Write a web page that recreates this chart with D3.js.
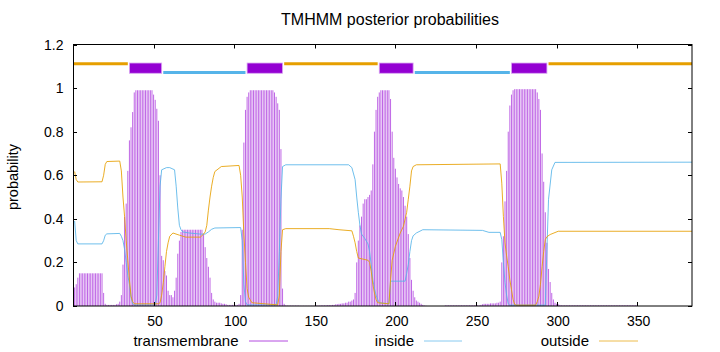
<!DOCTYPE html>
<html><head><meta charset="utf-8">
<script src="https://cdn.jsdelivr.net/npm/d3@7"></script>
<style>
html,body{margin:0;padding:0;background:#fff;}
svg{display:block;font-family:"Liberation Sans",Arial,sans-serif;}
</style></head>
<body><svg id="chart" width="720" height="352"></svg>
<script>
const title = "TMHMM posterior probabilities";
const yLabel = "probability";
const seqLength = 384;
const xTicks = [50,100,150,200,250,300,350];
const yTicks = [0,0.2,0.4,0.6,0.8,1,1.2];
const yTickLabels = ["0","0.2","0.4","0.6","0.8","1","1.2"];
const seriesNames = ["transmembrane","inside","outside"];
const seriesColors = ["#9400d3","#56b4e9","#e69f00"];

// transmembrane posterior per residue (1..384)
const tmProb = [
.085,.10,.13,.15,.15,.15,.15,.15,.15,.15,
.15,.15,.15,.15,.15,.15,.15,.15,.06,.01,
.005,.005,.005,.005,.005,.005,.008,.01,.02,.05,
.19,.41,.47,.62,.76,.82,.89,.98,.99,.99,
.99,.99,.99,.99,.99,.99,.99,.99,.99,.97,
.946,.905,.85,.6,.23,.21,.16,.14,.07,.05,
.05,.04,.07,.13,.24,.30,.34,.35,.35,.35,
.35,.35,.35,.35,.35,.35,.35,.35,.35,.35,
.33,.27,.22,.18,.13,.06,.03,.02,.015,.015,
.015,.012,.01,.01,.008,.005,.005,.005,.005,.005,
.005,.005,.01,.05,.35,.75,.90,.96,.98,.99,
.99,.99,.99,.99,.99,.99,.99,.99,.99,.99,
.99,.99,.99,.99,.98,.96,.93,.90,.72,.08,
.01,.003,.002,.002,.002,.002,.002,.002,.002,.002,
.001,.001,.001,.001,.001,.001,.001,.001,.001,.001,
.002,.002,.002,.003,.003,.003,.003,.004,.004,.004,
.005,.005,.008,.008,.01,.01,.012,.012,.015,.015,
.02,.02,.025,.03,.06,.20,.30,.37,.41,.47,
.49,.49,.50,.51,.53,.65,.80,.90,.96,.98,
.99,.99,.99,.99,.99,.99,.95,.80,.68,.63,
.59,.56,.54,.53,.50,.46,.41,.33,.22,.12,
.07,.04,.025,.02,.015,.01,.005,.002,.001,0,
0,0,0,0,0,0,0,0,0,0,
.003,.003,.003,.003,.003,.003,.003,.003,.003,.003,
.003,.003,.003,.003,.003,.003,.003,.003,.003,.003,
.003,.003,.005,.008,.01,.01,.01,.01,.012,.012,
.012,.012,.015,.015,.02,.20,.32,.48,.62,.80,
.92,.97,.99,.995,.995,.995,.995,.995,.995,.995,
.995,.995,.995,.995,.995,.995,.995,.98,.95,.90,
.70,.57,.43,.29,.17,.11,.06,.03,.015,.01,
.008,.005,.003,.003,.003,.003,.003,.003,.003,.003,
.003,.003,.003,.003,.003,.003,.003,.003,.003,.003,
.003,.003,.003,.003,.003,.003,.003,.003,.003,.003,
.003,.003,.003,.003,.003,.003,.003,.003,.003,.003,
.003,.003,.003,.003,.003,.003,.003,.003,.003,.003,
0,0,0,0,0,0,0,0,0,0,
0,0,0,0,0,0,0,0,0,0,
0,0,0,0,0,0,0,0,0,0,
0,0,0,0
];

// inside posterior [residue, value]
const insideProb = [
[1,0.39],[2,0.3],[3,0.285],[18,0.285],[19,0.3],[20,0.325],[21,0.331],[29,0.333],[30,0.32],[31,0.3],[32,0.26],[33,0.2],[34,0.14],[35,0.1],[36,0.04],[37,0.01],[38,0.005],
[51,0.005],[52,0.05],[53,0.3],[54,0.55],[55,0.625],[58,0.635],[60,0.635],[63,0.625],[64,0.55],[65,0.45],[66,0.37],[67,0.35],[68,0.34],[72,0.335],[79,0.33],[82,0.33],[84,0.34],[86,0.352],[88,0.358],[104,0.36],[105,0.3],[106,0.1],[107,0.02],[108,0.005],
[126,0.005],[127,0.045],[128,0.25],[129,0.49],[130,0.64],[132,0.648],[171,0.648],[173,0.635],[175,0.58],[176,0.5],[177,0.43],[178,0.37],[179,0.33],[181,0.31],[183,0.285],[184,0.25],[185,0.19],[186,0.12],[187,0.08],[188,0.05],[189,0.03],[190,0.015],[196,0.01],
[197,0.114],[206,0.114],[207,0.15],[208,0.19],[209,0.25],[210,0.3],[211,0.322],[213,0.335],[217,0.35],[254,0.347],[258,0.338],[265,0.338],[266,0.305],[267,0.2],[268,0.107],[269,0.05],[270,0.01],[271,0.004],
[293,0.004],[294,0.26],[295,0.49],[297,0.625],[299,0.659],[384,0.66]
];

// outside posterior [residue, value]
const outsideProb = [
[1,0.617],[2,0.58],[3,0.569],[18,0.57],[19,0.6],[20,0.65],[21,0.663],[29,0.665],[30,0.62],[31,0.5],[32,0.41],[33,0.3],[34,0.21],[35,0.12],[36,0.045],[37,0.02],[38,0.01],
[53,0.01],[54,0.015],[55,0.05],[56,0.107],[57,0.18],[58,0.25],[59,0.29],[60,0.32],[62,0.335],[66,0.325],[70,0.316],[79,0.316],[81,0.33],[82,0.34],[83,0.37],[84,0.44],[85,0.5],[86,0.55],[87,0.59],[88,0.617],[92,0.64],[103,0.645],[104,0.6],[105,0.5],[106,0.33],[107,0.2],[108,0.08],[109,0.04],[111,0.015],
[127,0.005],[128,0.05],[129,0.25],[130,0.35],[132,0.355],[159,0.355],[165,0.35],[173,0.345],[174,0.32],[175,0.29],[176,0.25],[177,0.22],[183,0.21],[184,0.2],[185,0.16],[186,0.1],[187,0.06],[188,0.03],[189,0.015],[196,0.01],
[197,0.12],[198,0.21],[200,0.274],[203,0.335],[205,0.366],[207,0.43],[208,0.49],[209,0.55],[210,0.62],[211,0.64],[213,0.648],[265,0.652],[266,0.564],[267,0.41],[268,0.29],[269,0.23],[270,0.18],[271,0.12],[272,0.076],[273,0.03],[274,0.007],[275,0.004],
[287,0.004],[288,0.02],[289,0.045],[290,0.1],[291,0.18],[292,0.25],[293,0.305],[294,0.318],[296,0.328],[301,0.343],[384,0.343]
];

// predicted topology segments [start, end]
const tmSegments = [[35,55],[108,130],[190,211],[272,294]];
const insideSegments = [[56,107],[212,271]];
const outsideSegments = [[0,34],[131,189],[295,384]];
const topoLevels = {outside:1.112, inside:1.072, tmTop:1.115, tmBottom:1.068};

const svg = d3.select("#chart");
const L = 73, R = 692, T = 44.5, B = 306;
const x = d3.scaleLinear().domain([0, seqLength]).range([L, R]);
const y = d3.scaleLinear().domain([0, 1.2]).range([B, T]);
const FS = 14;

// TM impulses
const tmData = tmProb.map((v,i)=>({res:i+1, v}));
svg.append("g").selectAll("line").data(tmData.filter(d=>d.v>0)).join("line")
  .attr("x1", d=>x(d.res)).attr("x2", d=>x(d.res))
  .attr("y1", y(0)).attr("y2", d=>y(d.v))
  .attr("stroke", seriesColors[0]).attr("stroke-width", 1).attr("stroke-opacity", 0.6);

const line = d3.line().x(d=>x(d[0])).y(d=>y(d[1]));
svg.append("path").attr("d", line(insideProb)).attr("fill","none")
  .attr("stroke", seriesColors[1]).attr("stroke-width", 1).attr("stroke-opacity",0.85);
svg.append("path").attr("d", line(outsideProb)).attr("fill","none")
  .attr("stroke", seriesColors[2]).attr("stroke-width", 1).attr("stroke-opacity",0.85);

// topology bar
const topo = svg.append("g");
outsideSegments.forEach(s=>{
  topo.append("line").attr("x1",x(s[0])).attr("x2",x(s[1]))
    .attr("y1",y(topoLevels.outside)).attr("y2",y(topoLevels.outside))
    .attr("stroke",seriesColors[2]).attr("stroke-width",3);
});
insideSegments.forEach(s=>{
  topo.append("line").attr("x1",x(s[0])).attr("x2",x(s[1]))
    .attr("y1",y(topoLevels.inside)).attr("y2",y(topoLevels.inside))
    .attr("stroke",seriesColors[1]).attr("stroke-width",3);
});
tmSegments.forEach(s=>{
  topo.append("rect").attr("x",x(s[0])).attr("width",x(s[1])-x(s[0]))
    .attr("y",y(topoLevels.tmTop)).attr("height",y(topoLevels.tmBottom)-y(topoLevels.tmTop))
    .attr("fill",seriesColors[0]).attr("stroke","#d9a6f2").attr("stroke-width",0.8);
});

// border
svg.append("rect").attr("x",L+0.5).attr("y",T).attr("width",R-L-0.5).attr("height",B-T)
  .attr("fill","none").attr("stroke","#000").attr("stroke-width",1);

// ticks
const tickLen = 4;
const tg = svg.append("g").attr("stroke","#000").attr("stroke-width",1);
xTicks.forEach(t=>{
  const px = Math.round(x(t))+0.5;
  tg.append("line").attr("x1",px).attr("x2",px).attr("y1",B).attr("y2",B-tickLen);
  tg.append("line").attr("x1",px).attr("x2",px).attr("y1",T).attr("y2",T+tickLen);
});
yTicks.forEach(t=>{
  const py = Math.round(y(t))+0.5;
  tg.append("line").attr("x1",L).attr("x2",L+tickLen).attr("y1",py).attr("y2",py);
  tg.append("line").attr("x1",R).attr("x2",R-tickLen).attr("y1",py).attr("y2",py);
});

// tick labels
svg.append("g").selectAll("text").data(xTicks).join("text")
  .attr("x", d=>x(d)+1.5).attr("y", 326).attr("text-anchor","middle")
  .attr("font-size",FS).attr("fill","#000").text(d=>d);
svg.append("g").selectAll("text").data(yTicks).join("text")
  .attr("x", 63.5).attr("y", d=>y(d)+5).attr("text-anchor","end")
  .attr("font-size",FS).attr("fill","#000").text((d,i)=>yTickLabels[i]);

// title & y label
svg.append("text").attr("x",390).attr("y",25).attr("text-anchor","middle")
  .attr("font-size",16).text(title);
svg.append("text").attr("transform","translate(18,177) rotate(-90)")
  .attr("text-anchor","middle").attr("font-size",14.5).text(yLabel);

// legend
const legend = [
  {name:seriesNames[0], color:seriesColors[0], tx:238.5, l1:249, l2:288},
  {name:seriesNames[1], color:seriesColors[1], tx:414, l1:424, l2:462},
  {name:seriesNames[2], color:seriesColors[2], tx:589, l1:599, l2:638}
];
legend.forEach(d=>{
  svg.append("text").attr("x",d.tx).attr("y",345.5).attr("text-anchor","end")
    .attr("font-size",15).text(d.name);
  svg.append("line").attr("x1",d.l1).attr("x2",d.l2).attr("y1",341).attr("y2",341)
    .attr("stroke",d.color).attr("stroke-width",1).attr("stroke-opacity",0.7);
});
</script></body></html>
